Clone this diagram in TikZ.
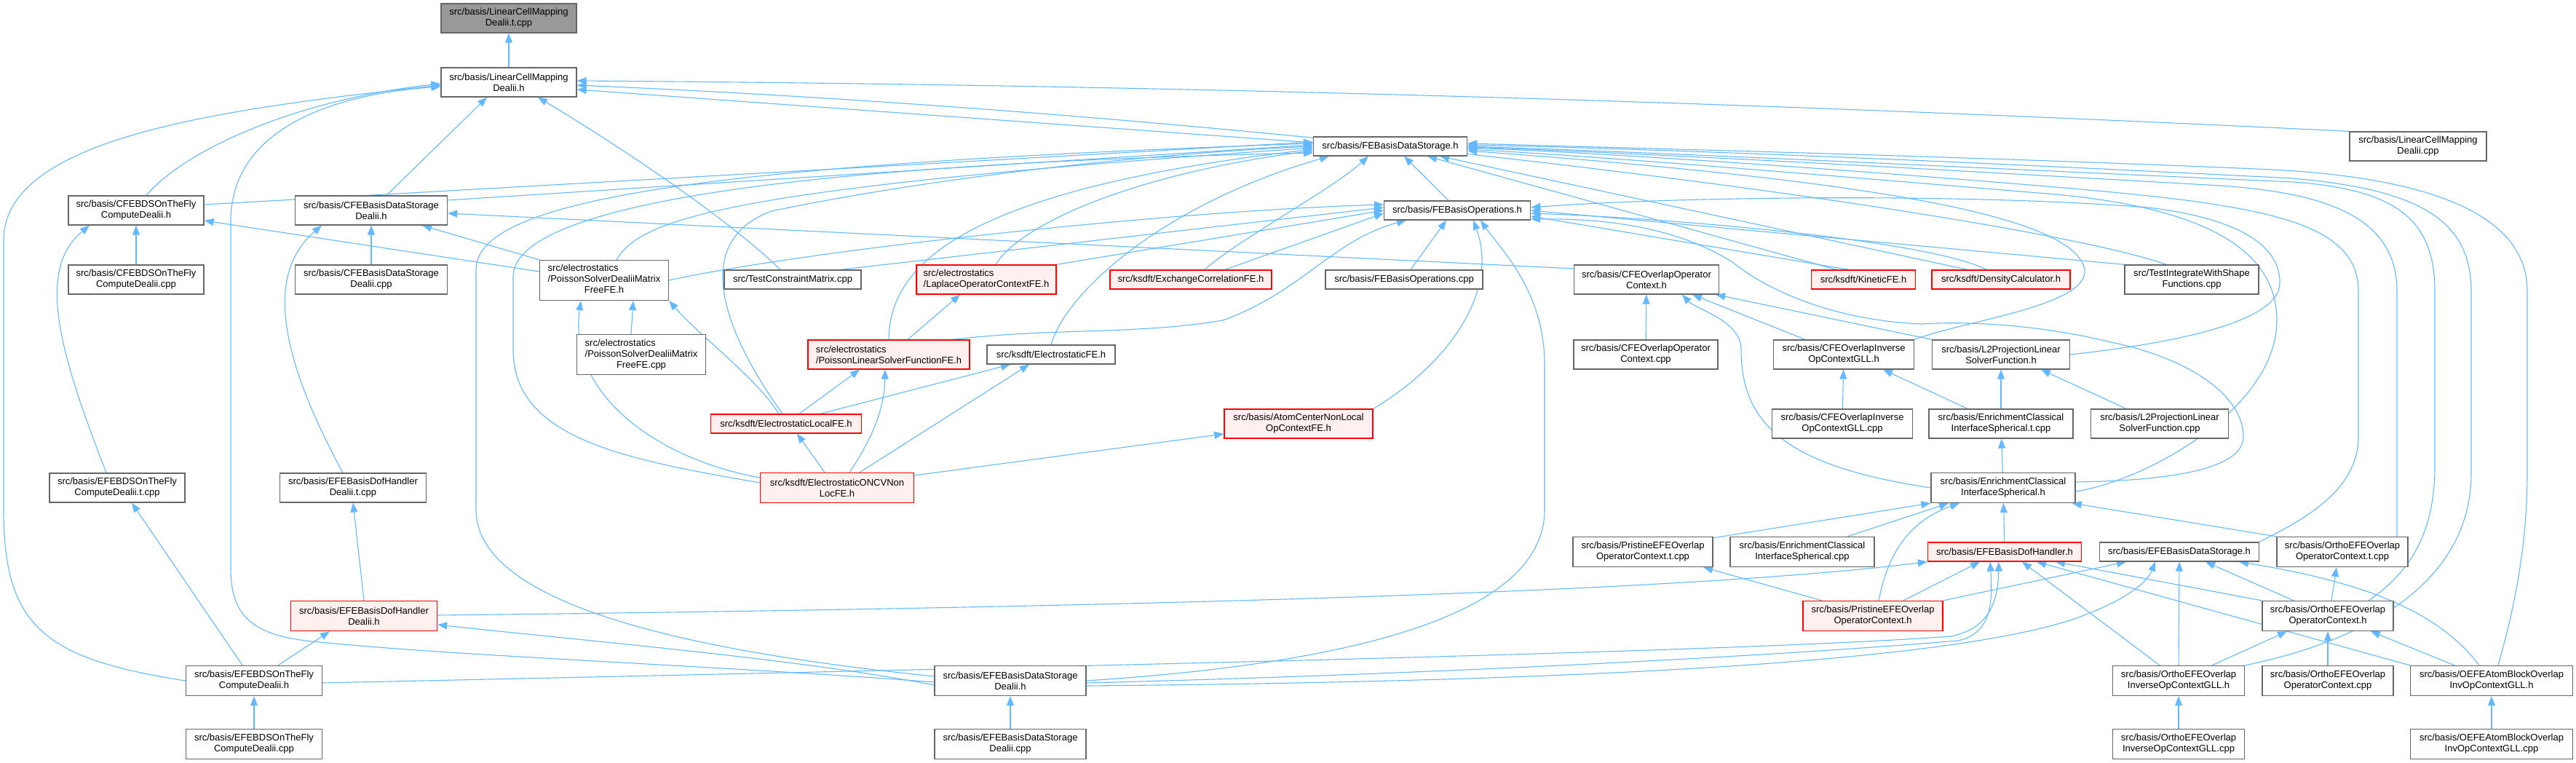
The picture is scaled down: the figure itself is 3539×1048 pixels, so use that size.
\documentclass[tikz,border=0pt]{standalone}
\usepackage{fontspec}
\setmainfont{Liberation Sans}
\usetikzlibrary{arrows.meta}
\definecolor{edgec}{HTML}{63B8FF}
\definecolor{ndgray}{HTML}{666666}
\definecolor{redfill}{HTML}{FFF0F0}
\definecolor{topfill}{HTML}{999999}
\newcommand\nfs{\fontsize{13}{15}\selectfont}
\pgfdeclarelayer{edgelayer}
\pgfsetlayers{edgelayer,main}
\tikzset{
  nd/.style={draw=ndgray, line width=1.3pt, fill=white, inner sep=0pt, align=center, font=\nfs},
  rd/.style={nd, draw=red, fill=redfill},
  gd/.style={nd, fill=topfill},
  e/.style={draw=edgec, line width=1.1pt, -{Triangle[length=13pt,width=10pt]}},
}
\begin{document}
\begin{tikzpicture}[x=1pt,y=-1pt]
\useasboundingbox (0,0) rectangle (3539,1048);
% ---------- nodes ----------
\node[gd, minimum width=186, minimum height=40] (top) at (699,25) {src/basis/LinearCellMapping\\Dealii.t.cpp};
\node[nd, minimum width=186, minimum height=40] (lcmh) at (699,113) {src/basis/LinearCellMapping\\Dealii.h};
\node[nd, minimum width=211, minimum height=26] (fbds) at (1910,201) {src/basis/FEBasisDataStorage.h};
\node[nd, minimum width=188, minimum height=40] (lcmcpp) at (3322,201) {src/basis/LinearCellMapping\\Dealii.cpp};
\node[nd, minimum width=186, minimum height=40] (cfebdsh) at (187,289) {src/basis/CFEBDSOnTheFly\\ComputeDealii.h};
\node[nd, minimum width=209, minimum height=40] (cfebdsdh) at (510,289) {src/basis/CFEBasisDataStorage\\Dealii.h};
\node[nd, minimum width=201, minimum height=26] (febo) at (2002,289) {src/basis/FEBasisOperations.h};
\node[nd, minimum width=186, minimum height=40] (cfebdscpp) at (187,384) {src/basis/CFEBDSOnTheFly\\ComputeDealii.cpp};
\node[nd, minimum width=209, minimum height=40] (cfebdsdcpp) at (510,384) {src/basis/CFEBasisDataStorage\\Dealii.cpp};
\node[nd, minimum width=177, minimum height=55] (poimf) at (830,385) {\begin{tabular}{@{}l@{}}src/electrostatics\\/PoissonSolverDealiiMatrix\\\multicolumn{1}{@{}c@{}}{FreeFE.h}\end{tabular}};
\node[nd, minimum width=188, minimum height=26] (testcm) at (1089,384) {src/TestConstraintMatrix.cpp};
\node[rd, minimum width=192, minimum height=40, align=left] (laplace) at (1355,384) {src/electrostatics\\/LaplaceOperatorContextFE.h};
\node[rd, minimum width=222, minimum height=26] (xc) at (1636,384) {src/ksdft/ExchangeCorrelationFE.h};
\node[nd, minimum width=216, minimum height=26] (febocpp) at (1929,384) {src/basis/FEBasisOperations.cpp};
\node[nd, minimum width=199, minimum height=40] (coc) at (2262,384) {src/basis/CFEOverlapOperator\\Context.h};
\node[rd, minimum width=143, minimum height=26] (kinetic) at (2560,384) {src/ksdft/KineticFE.h};
\node[rd, minimum width=190, minimum height=26] (density) at (2749,384) {src/ksdft/DensityCalculator.h};
\node[nd, minimum width=184, minimum height=40] (testint) at (3011,384) {src/TestIntegrateWithShape\\Functions.cpp};
\node[nd, minimum width=177, minimum height=55] (poimfcpp) at (881,487) {\begin{tabular}{@{}l@{}}src/electrostatics\\/PoissonSolverDealiiMatrix\\\multicolumn{1}{@{}c@{}}{FreeFE.cpp}\end{tabular}};
\node[rd, minimum width=222, minimum height=40, align=left] (poislin) at (1221,487) {src/electrostatics\\/PoissonLinearSolverFunctionFE.h};
\node[nd, minimum width=176, minimum height=26] (elfe) at (1444,487) {src/ksdft/ElectrostaticFE.h};
\node[nd, minimum width=198, minimum height=40] (coccpp) at (2261,487) {src/basis/CFEOverlapOperator\\Context.cpp};
\node[nd, minimum width=193, minimum height=40] (coi) at (2533,487) {src/basis/CFEOverlapInverse\\OpContextGLL.h};
\node[nd, minimum width=189, minimum height=40] (l2proj) at (2749,487) {src/basis/L2ProjectionLinear\\SolverFunction.h};
\node[rd, minimum width=207, minimum height=26] (ellocal) at (1080,582) {src/ksdft/ElectrostaticLocalFE.h};
\node[rd, minimum width=204, minimum height=40] (atomc) at (1784,582) {src/basis/AtomCenterNonLocal\\OpContextFE.h};
\node[nd, minimum width=193, minimum height=40] (coicpp) at (2531,582) {src/basis/CFEOverlapInverse\\OpContextGLL.cpp};
\node[nd, minimum width=198, minimum height=40] (ecist) at (2749,582) {src/basis/EnrichmentClassical\\InterfaceSpherical.t.cpp};
\node[nd, minimum width=189, minimum height=40] (l2cpp) at (2967,582) {src/basis/L2ProjectionLinear\\SolverFunction.cpp};
\node[nd, minimum width=186, minimum height=40] (efebdst) at (161,670) {src/basis/EFEBDSOnTheFly\\ComputeDealii.t.cpp};
\node[nd, minimum width=201, minimum height=40] (efedhdt) at (485,670) {src/basis/EFEBasisDofHandler\\Dealii.t.cpp};
\node[rd, minimum width=211, minimum height=41] (eloncv) at (1150,670) {src/ksdft/ElectrostaticONCVNon\\LocFE.h};
\node[nd, minimum width=198, minimum height=41] (ecish) at (2752,670) {src/basis/EnrichmentClassical\\InterfaceSpherical.h};
\node[nd, minimum width=192, minimum height=41] (pristt) at (2257,758) {src/basis/PristineEFEOverlap\\OperatorContext.t.cpp};
\node[nd, minimum width=198, minimum height=41] (eciscpp) at (2476,758) {src/basis/EnrichmentClassical\\InterfaceSpherical.cpp};
\node[rd, minimum width=211, minimum height=26] (efedh) at (2754,758) {src/basis/EFEBasisDofHandler.h};
\node[nd, minimum width=219, minimum height=26] (efeds) at (2994,758) {src/basis/EFEBasisDataStorage.h};
\node[nd, minimum width=180, minimum height=41] (ooct) at (3218,758) {src/basis/OrthoEFEOverlap\\OperatorContext.t.cpp};
\node[rd, minimum width=201, minimum height=41] (efedhd) at (500,846) {src/basis/EFEBasisDofHandler\\Dealii.h};
\node[rd, minimum width=192, minimum height=41] (pristh) at (2573,846) {src/basis/PristineEFEOverlap\\OperatorContext.h};
\node[nd, minimum width=180, minimum height=41] (ooc) at (3198,846) {src/basis/OrthoEFEOverlap\\OperatorContext.h};
\node[nd, minimum width=187, minimum height=41] (efebdsh) at (349,935) {src/basis/EFEBDSOnTheFly\\ComputeDealii.h};
\node[nd, minimum width=208, minimum height=41] (efedsd) at (1388,935) {src/basis/EFEBasisDataStorage\\Dealii.h};
\node[nd, minimum width=181, minimum height=41] (ooi) at (2993,935) {src/basis/OrthoEFEOverlap\\InverseOpContextGLL.h};
\node[nd, minimum width=180, minimum height=41] (ooccpp) at (3198,935) {src/basis/OrthoEFEOverlap\\OperatorContext.cpp};
\node[nd, minimum width=223, minimum height=41] (oab) at (3423,935) {src/basis/OEFEAtomBlockOverlap\\InvOpContextGLL.h};
\node[nd, minimum width=187, minimum height=41] (efebdscpp) at (349,1022) {src/basis/EFEBDSOnTheFly\\ComputeDealii.cpp};
\node[nd, minimum width=208, minimum height=41] (efedsdcpp) at (1388,1022) {src/basis/EFEBasisDataStorage\\Dealii.cpp};
\node[nd, minimum width=181, minimum height=41] (ooicpp) at (2993,1022) {src/basis/OrthoEFEOverlap\\InverseOpContextGLL.cpp};
\node[nd, minimum width=223, minimum height=41] (oabcpp) at (3423,1022) {src/basis/OEFEAtomBlockOverlap\\InvOpContextGLL.cpp};
\begin{pgfonlayer}{edgelayer}
% ---------- edges into LinearCellMappingDealii ----------
\draw[e] (lcmh) -- (top);
\draw[e] ([xshift=14]cfebdsh.north) .. controls (260,200) and (420,135) .. ([yshift=-2]lcmh.west);
\draw[e] ([xshift=21]cfebdsdh.north) -- ([xshift=-30]lcmh.south);
\draw[e] (efebdsh.west) .. controls (60,905) and (5,860) .. (5,700) -- (5,330) .. controls (5,190) and (300,150) .. ([yshift=-4]lcmh.west);
\draw[e] ([yshift=-2]efedsd.west) .. controls (1000,915) and (600,900) .. (420,880) .. controls (340,870) and (317,840) .. (317,780) -- (317,300) .. controls (320,180) and (450,130) .. ([yshift=-6]lcmh.west);
\draw[e] ([xshift=-17]testcm.north) .. controls (1000,300) and (850,200) .. ([xshift=40]lcmh.south);
\draw[e] (lcmcpp.north west) .. controls (2600,150) and (1800,118) .. ([yshift=2]lcmh.east);
\draw[e] ([xshift=-35]testint.north) .. controls (2800,300) and (1800,160) .. ([yshift=-4]lcmh.east);
\draw[e] ([yshift=5]fbds.west) -- ([yshift=-10]lcmh.east);
% ---------- edges into FEBasisDataStorage.h ----------
\draw[e] ([yshift=8]cfebdsh.east) -- ([yshift=6]fbds.west);
\draw[e] ([yshift=14]cfebdsdh.east) -- ([yshift=2]fbds.west);
\draw[e] ([xshift=17]poimf.north) .. controls (880,300) and (1000,258) .. ([yshift=-2]fbds.west);
\draw[e] ([xshift=13]laplace.north) .. controls (1400,310) and (1550,240) .. ([yshift=-6]fbds.west);
\draw[e] (poislin.north) .. controls (1222,360) and (1330,260) .. ([yshift=-4]fbds.west);
\draw[e] ([xshift=-5]ellocal.north) .. controls (990,450) and (950,330) .. (1060,290) .. controls (1300,240) and (1600,210) .. ([yshift=0]fbds.west);
\draw[e] ([yshift=7]eloncv.west) .. controls (850,630) and (705,600) .. (705,480) -- (705,380) .. controls (705,280) and (1100,225) .. ([yshift=-9]fbds.west);
\draw[e] ([yshift=6]efedsd.west) .. controls (900,890) and (654,820) .. (654,700) -- (654,370) .. controls (654,270) and (1000,225) .. ([yshift=4]fbds.west);
\draw[e] (elfe.north) .. controls (1465,400) and (1600,280) .. ([xshift=-84]fbds.south);
\draw[e] ([xshift=19]xc.north) .. controls (1700,330) and (1830,260) .. ([xshift=-30]fbds.south);
\draw[e] ([xshift=-12]febo.north) -- ([xshift=19]fbds.south);
\draw[e] ([xshift=-37]kinetic.north) -- ([xshift=51]fbds.south);
\draw[e] ([xshift=-46]density.north) -- ([xshift=68]fbds.south);
\draw[e] (coi.north east) .. controls (2700,440) and (2870,420) .. (2864,370) .. controls (2850,300) and (2600,250) .. ([yshift=-6]fbds.east);
\draw[e] ([yshift=-5]ecish.east) .. controls (2950,660) and (3128,560) .. (3128,440) .. controls (3128,330) and (3000,280) .. (2800,265) .. controls (2500,240) and (2200,215) .. ([yshift=-4]fbds.east);
\draw[e] (efeds.north east) .. controls (3150,720) and (3240,680) .. (3240,600) -- (3240,400) .. controls (3240,300) and (3100,280) .. (2800,255) .. controls (2500,230) and (2200,210) .. ([yshift=-2]fbds.east);
\draw[e] ([xshift=75]ooct.north) .. controls (3293,720) and (3293,700) .. (3293,660) -- (3293,400) .. controls (3293,300) and (3200,265) .. (3050,255) .. controls (2700,235) and (2300,212) .. ([yshift=-1]fbds.east);
\draw[e] ([xshift=56]ooc.north) .. controls (3320,780) and (3345,720) .. (3345,640) -- (3345,400) .. controls (3345,300) and (3290,260) .. (3150,250) .. controls (2700,230) and (2300,210) .. ([yshift=0]fbds.east);
\draw[e] (ooi.north east) .. controls (3250,880) and (3395,800) .. (3395,650) -- (3395,400) .. controls (3395,300) and (3320,260) .. (3150,245) .. controls (2700,222) and (2300,205) .. ([yshift=2]fbds.east);
\draw[e] ([xshift=9]oab.north) .. controls (3450,850) and (3472,760) .. (3472,650) -- (3472,400) .. controls (3472,280) and (3300,240) .. (3100,232) .. controls (2700,215) and (2300,205) .. ([yshift=4]fbds.east);
% ---------- edges into FEBasisOperations.h ----------
\draw[e] (poimf.east) .. controls (1100,345) and (1600,290) .. ([yshift=8]febo.west);
\draw[e] ([xshift=66]testcm.north) -- ([yshift=4]febo.west);
\draw[e] (laplace.north east) -- ([yshift=0]febo.west);
\draw[e] ([xshift=47]xc.north) -- ([yshift=-4]febo.west);
\draw[e] ([xshift=87]poislin.north) .. controls (1450,450) and (1560,460) .. (1680,440) .. controls (1790,400) and (1830,330) .. ([xshift=-70]febo.south);
\draw[e] (atomc.north east) .. controls (1990,500) and (2060,400) .. ([xshift=22]febo.south);
\draw[e] ([xshift=9]febocpp.north) -- ([xshift=-15]febo.south);
\draw[e] (efedsd.east) .. controls (1800,915) and (2122,860) .. (2122,700) -- (2122,500) .. controls (2122,400) and (2060,340) .. ([xshift=32]febo.south);
\draw[e] ([xshift=-20]kinetic.north) -- ([yshift=-8]febo.east);
\draw[e] ([xshift=-20]density.north) .. controls (2650,330) and (2300,300) .. ([yshift=-4]febo.east);
\draw[e] (testint.north west) -- ([yshift=0]febo.east);
\draw[e] (l2proj.east) .. controls (3000,470) and (3130,440) .. (3132,390) .. controls (3134,340) and (3080,300) .. (2950,285) .. controls (2700,265) and (2300,270) .. ([yshift=4]febo.east);
\draw[e] ([yshift=8]ecish.east) .. controls (3000,660) and (3082,640) .. (3082,600) .. controls (3082,540) and (3000,490) .. (2900,470) .. controls (2820,450) and (2720,440) .. (2640,445) .. controls (2520,440) and (2430,400) .. (2380,360) .. controls (2300,310) and (2200,300) .. ([yshift=-12]febo.east);
% ---------- left cluster ----------
\draw[e] (cfebdscpp) -- (cfebdsh);
\draw[e] (cfebdsdcpp) -- (cfebdsdh);
\draw[e] ([yshift=12]poimf.west) -- ([yshift=-14]cfebdsh.east);
\draw[e] (poimf.north west) -- ([xshift=70]cfebdsdh.south);
\draw[e] ([xshift=-14]poimfcpp.north) -- ([xshift=40]poimf.south);
\draw[e] ([xshift=-10]ellocal.north) .. controls (1040,520) and (960,460) .. (poimf.south east);
\draw[e] ([xshift=18]ellocal.north) -- ([xshift=-40]poislin.south);
\draw[e] ([xshift=47]ellocal.north) -- ([xshift=-56]elfe.south);
\draw[e] ([xshift=-17]eloncv.north) -- ([xshift=15]ellocal.south);
\draw[e] ([xshift=17]eloncv.north) .. controls (1200,600) and (1215,560) .. ([xshift=-5]poislin.south);
\draw[e] ([xshift=31]eloncv.north) -- ([xshift=-30]elfe.south);
\draw[e] ([yshift=17]eloncv.east) -- ([yshift=-14]atomc.west);
\draw[e] ([yshift=14]eloncv.west) .. controls (900,630) and (780,540) .. ([xshift=-32]poimf.south);
\draw[e] ([xshift=26]poislin.north) -- ([xshift=-36]laplace.south);
\draw[e] ([xshift=-15]efebdst.north) .. controls (80,480) and (50,370) .. ([xshift=-64]cfebdsh.south);
\draw[e] ([xshift=-14]efedhdt.north) .. controls (390,500) and (360,380) .. ([xshift=-68]cfebdsdh.south);
\draw[e] ([xshift=-16]efebdsh.north) -- ([xshift=20]efebdst.south);
\draw[e] ([xshift=33]efebdsh.north) -- ([xshift=-47]efedhd.south);
\draw[e] (efebdscpp) -- (efebdsh);
\draw[e] (efedhd.north) -- (efedhdt.south);
\draw[e] ([yshift=-6]efedsd.west) .. controls (1100,905) and (800,880) .. ([yshift=-12]efedhd.east);
\draw[e] (efedsdcpp) -- (efedsd);
% ---------- long lower edges ----------
\draw[e] ([yshift=1]efedhd.east) .. controls (1500,835) and (2300,815) .. (efedh.south west);
\draw[e] ([yshift=-3]efebdsh.east) .. controls (1500,915) and (2400,895) .. (2680,874) .. controls (2730,864) and (2745,830) .. ([xshift=-8]efedh.south);
\draw[e] ([yshift=-3]efedsd.east) .. controls (2000,925) and (2450,900) .. (2690,880) .. controls (2735,870) and (2738,830) .. ([xshift=-20]efedh.south);
\draw[e] ([yshift=-7]efedsd.east) .. controls (2300,935) and (2700,900) .. (2850,850) .. controls (2920,825) and (2950,800) .. ([xshift=-33]efeds.south);
% ---------- right cluster ----------
\draw[e] (coccpp) -- (coc);
\draw[e] ([xshift=-53]coi.north) -- ([xshift=63]coc.south);
\draw[e] (l2proj.north west) -- ([xshift=-5]coc.south east);
\draw[e] (ecish.west) .. controls (2450,640) and (2392,580) .. (2392,480) .. controls (2392,440) and (2330,425) .. ([xshift=49]coc.south);
\draw[e] ([yshift=15]coc.west) -- ([yshift=-4]cfebdsdh.east);
\draw[e] (coicpp) -- (coi);
\draw[e] ([xshift=-46]l2cpp.north) -- ([xshift=55]l2proj.south);
\draw[e] (ecist) -- (l2proj);
\draw[e] ([xshift=-46]ecist.north) -- ([xshift=54]coi.south);
\draw[e] (ecish) -- (ecist);
\draw[e] ([yshift=-2]pristt.north east) -- (ecish.south west);
\draw[e] ([xshift=62]eciscpp.north) -- ([xshift=-75]ecish.south);
\draw[e] (efedh) -- (ecish);
\draw[e] (ooct.north west) -- ([xshift=-5]ecish.south east);
\draw[e] ([xshift=8]pristh.north) .. controls (2590,780) and (2610,720) .. ([xshift=-60]ecish.south);
\draw[e] ([xshift=-70]pristh.north) -- ([xshift=83]pristt.south);
\draw[e] ([xshift=42]pristh.north) -- ([xshift=-34]efedh.south);
\draw[e] (pristh.north east) -- ([xshift=-73]efeds.south);
\draw[e] (ooc.north west) -- ([xshift=70]efedh.south);
\draw[e] ([xshift=-47]ooc.north) -- ([xshift=36]efeds.south);
\draw[e] ([xshift=5]ooc.north) -- ([xshift=-8]ooct.south);
\draw[e] ([xshift=-26]ooi.north) -- ([xshift=24]efedh.south);
\draw[e] (ooi.north) -- (efeds.south);
\draw[e] ([xshift=46]ooi.north) -- ([xshift=-56]ooc.south);
\draw[e] (ooccpp) -- (ooc);
\draw[e] (oab.north west) -- ([xshift=44]efedh.south);
\draw[e] ([xshift=-17]oab.north) .. controls (3350,840) and (3250,800) .. ([xshift=82]efeds.south);
\draw[e] ([xshift=-51]oab.north) -- ([xshift=59]ooc.south);
\draw[e] (ooicpp) -- (ooi);
\draw[e] (oabcpp) -- (oab);
\end{pgfonlayer}
\end{tikzpicture}
\end{document}
